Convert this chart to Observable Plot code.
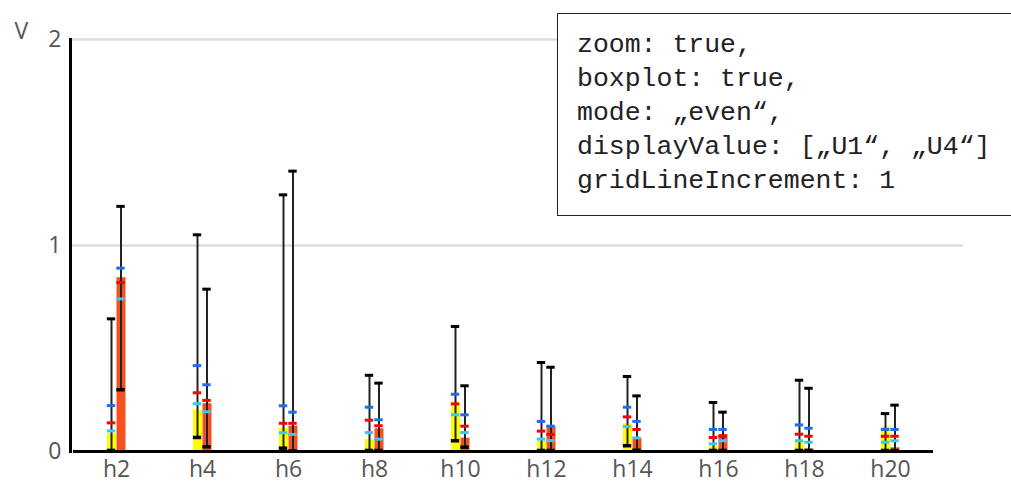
<!DOCTYPE html>
<html>
<head>
<meta charset="utf-8">
<script src="https://cdn.jsdelivr.net/npm/d3@7"></script>
<script src="https://cdn.jsdelivr.net/npm/@observablehq/plot@0.6"></script>
<style>
  html, body { margin: 0; padding: 0; background: #fff; }
  #wrap { position: relative; width: 1011px; height: 485px; overflow: hidden; }
  #chart svg text { font-size: 23px !important; font-family: "Open Sans", sans-serif !important; }
  #code {
    position: absolute; left: 557px; top: 13px; width: 480px; height: 203px;
    box-sizing: border-box; border: 1px solid #222; background: #fff;
    font-family: "Liberation Mono", "DejaVu Sans Mono", monospace; font-size: 26.5px;
    line-height: 34px; color: #222; padding: 14px 0 0 19px; white-space: pre;
  }
</style>
</head>
<body>
<div id="wrap"><div id="chart"></div><div id="code"></div></div>
<script>
const categories = ["h2","h4","h6","h8","h10","h12","h14","h16","h18","h20"];

// U1 (yellow)
const u1Bar  = [0.086, 0.199, 0.113, 0.058, 0.239, 0.050, 0.134, 0.024, 0.045, 0.118];
const u1Min  = [0.005, 0.068, 0.016, 0.005, 0.052, 0.005, 0.028, 0.005, 0.005, 0.005];
const u1Max  = [0.644, 1.052, 1.246, 0.370, 0.607, 0.432, 0.364, 0.238, 0.346, 0.184];
const u1Blue = [0.223, 0.417, 0.222, 0.215, 0.278, 0.146, 0.215, 0.107, 0.129, 0.107];
const u1Red  = [0.139, 0.285, 0.137, 0.152, 0.231, 0.099, 0.168, 0.068, 0.084, 0.074];
const u1Cyan = [0.100, 0.232, 0.091, 0.092, 0.178, 0.060, 0.121, 0.037, 0.052, 0.045];

// U4 (orange)
const u4Bar  = [0.843, 0.232, 0.123, 0.110, 0.065, 0.121, 0.062, 0.083, 0.012, 0.018];
const u4Min  = [0.300, 0.023, 0.003, 0.005, 0.021, 0.005, 0.006, 0.005, 0.005, 0.005];
const u4Max  = [1.190, 0.788, 1.361, 0.332, 0.319, 0.409, 0.270, 0.191, 0.307, 0.225];
const u4Blue = [0.890, 0.324, 0.191, 0.154, 0.178, 0.123, 0.146, 0.107, 0.113, 0.107];
const u4Red  = [0.820, 0.248, 0.137, 0.125, 0.123, 0.083, 0.107, 0.074, 0.074, 0.074];
const u4Cyan = [0.741, 0.193, 0.083, 0.060, 0.092, 0.053, 0.066, 0.052, 0.045, 0.052];

const yTicks = [0, 1, 2];
const yLabel = "V";
const codeLines = [
  "zoom: true,",
  "boxplot: true,",
  "mode: \u201eeven\u201c,",
  "displayValue: [\u201eU1\u201c, \u201eU4\u201c]",
  "gridLineIncrement: 1"
];

document.getElementById("code").textContent = codeLines.join("\n");

const mk = (bar, mn, mx, bl, rd, cy) => categories.map((c, i) => ({
  cat: c, bar: bar[i], min: mn[i], max: mx[i], blue: bl[i], red: rd[i], cyan: cy[i]
}));
const u1 = mk(u1Bar, u1Min, u1Max, u1Blue, u1Red, u1Cyan);
const u4 = mk(u4Bar, u4Min, u4Max, u4Blue, u4Red, u4Cyan);

const W = 1011, H = 485;
const mL = 70, mR = 48, insR = 27;
const bw = (W - mL - mR - insR) / categories.length;
const markW = 9;
const ins = (bw - markW) / 2;

const series = [
  {data: u1, fill: "#ffff00", dx: -5},
  {data: u4, fill: "#f4511e", dx: 4.5}
];

const marks = [
  Plot.gridY(yTicks.filter(d => d > 0), {stroke: "#dcdcdc", strokeWidth: 2.5, strokeOpacity: 1}),
];
for (const s of series) {
  marks.push(Plot.ruleX(s.data, {x: "cat", y1: 0, y2: "bar", stroke: s.fill, strokeWidth: markW, dx: s.dx}));
}
for (const s of series) {
  marks.push(Plot.ruleX(s.data, {x: "cat", y1: "min", y2: "max", stroke: "#222", strokeWidth: 2, dx: s.dx}));
  marks.push(Plot.tickY(s.data, {x: "cat", y: "max", stroke: "#000", strokeWidth: 3, dx: s.dx, insetLeft: ins, insetRight: ins}));
  marks.push(Plot.tickY(s.data, {x: "cat", y: "min", stroke: "#000", strokeWidth: 3.5, dx: s.dx, insetLeft: ins, insetRight: ins}));
  marks.push(Plot.tickY(s.data, {x: "cat", y: "blue", stroke: "#1a6ff0", strokeWidth: 3, dx: s.dx, insetLeft: ins, insetRight: ins}));
  marks.push(Plot.tickY(s.data, {x: "cat", y: "red", stroke: "#ff0000", strokeWidth: 3, dx: s.dx, insetLeft: ins, insetRight: ins}));
  marks.push(Plot.tickY(s.data, {x: "cat", y: "cyan", stroke: "#3cc8f5", strokeWidth: 3, dx: s.dx, insetLeft: ins, insetRight: ins}));
}
marks.push(Plot.tickY(categories, {x: d => d, y: () => 0, stroke: "#000", strokeWidth: 3}));
marks.push(Plot.frame({anchor: "left", stroke: "#000", strokeWidth: 3}));
marks.push(Plot.axisY(yTicks, {tickSize: 0, tickPadding: 9, tickFormat: d3.format("d"), fill: "#555", label: null}));
marks.push(Plot.axisX({tickSize: 0, tickPadding: 9, fill: "#555", label: null}));
marks.push(Plot.text([yLabel], {frameAnchor: "top-left", text: d => d, dx: -56, dy: -17, fill: "#555"}));

const chart = Plot.plot({
  width: W, height: H,
  marginLeft: mL, marginRight: mR, marginTop: 39, marginBottom: 34,
  style: {fontFamily: "'Open Sans', sans-serif", background: "#fff", overflow: "visible"},
  x: {type: "band", domain: categories, padding: 0, insetRight: insR, label: null},
  y: {domain: [0, 2], label: null},
  marks
});
document.getElementById("chart").appendChild(chart);
</script>
</body>
</html>
